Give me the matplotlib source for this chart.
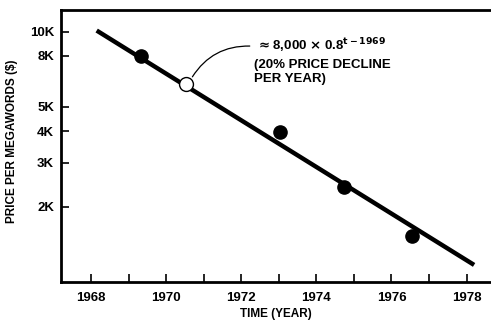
import matplotlib
matplotlib.use('Agg')
import matplotlib.pyplot as plt
from matplotlib.ticker import FixedLocator, NullFormatter, NullLocator

# Observed memory prices (year, $ per megaword)
years = [1969.33, 1973.03, 1974.73, 1976.54]
prices = [8000, 3980, 2400, 1520]

# Fitted trend line endpoints
trend_years = [1968.15, 1978.2]
trend_prices = [10100, 1170]

# Point on the trend line that carries the annotation
note_year = 1970.53
note_price = 6150

y_ticks = [2000, 3000, 4000, 5000, 8000, 10000]
y_labels = ['2K', '3K', '4K', '5K', '8K', '10K']
x_ticks = [1968, 1970, 1972, 1974, 1976, 1978]

plt.rcParams['font.family'] = ['Liberation Sans', 'DejaVu Sans']
plt.rcParams['font.weight'] = 'bold'

fig = plt.figure(figsize=(4.91, 3.2), dpi=100)
ax = fig.add_axes([61 / 491, 1 - 282 / 320, 430 / 491, 272 / 320])

ax.plot(trend_years, trend_prices, color='black', lw=3.2, solid_capstyle='butt')
ax.plot(years, prices, 'o', color='black', ms=9.5)
ax.plot([note_year], [note_price], 'o', mfc='white', mec='black', mew=1, ms=10)

ax.set_yscale('log')
ax.set_ylim(1000, 12200)
ax.set_xlim(1967.2, 1978.65)

ax.yaxis.set_major_locator(FixedLocator(y_ticks))
ax.set_yticklabels(y_labels)
ax.yaxis.set_minor_locator(NullLocator())
ax.yaxis.set_minor_formatter(NullFormatter())
ax.set_xticks(x_ticks)
ax.set_xticks(range(1968, 1979), minor=True)

ax.tick_params(axis='y', which='major', direction='in', length=6, width=1.2,
               labelsize=9.5, pad=5)
ax.tick_params(axis='x', which='both', direction='in', length=6, width=1.2,
               labelsize=9.5, pad=7)

for side in ['left', 'bottom', 'top']:
    ax.spines[side].set_linewidth(2)
ax.spines['right'].set_visible(False)

ax.set_xlabel('TIME (YEAR)', fontsize=8.5, fontweight='bold')
ax.xaxis.set_label_coords(0.5, -0.095)
ax.set_ylabel('PRICE PER MEGAWORDS ($)', fontsize=8.5, fontweight='bold')
ax.yaxis.set_label_coords(-0.1, 0.518)

ax.annotate('', xy=(note_year + 0.13, note_price * 1.05), xytext=(1972.3, 8750),
            arrowprops=dict(arrowstyle='-', color='black', lw=0.9,
                            connectionstyle='arc3,rad=0.3'))
ax.text(1972.4, 8750, r'$\approx$8,000 $\times$ 0.8$^{\mathbf{t-1969}}$',
        fontsize=9.5, fontweight='bold', va='center', ha='left')
ax.text(1972.33, 7750, '(20% PRICE DECLINE\nPER YEAR)', fontsize=9.5,
        fontweight='bold', va='top', ha='left', linespacing=1.15)

fig.savefig('out.png', dpi=100)
plt.close(fig)
